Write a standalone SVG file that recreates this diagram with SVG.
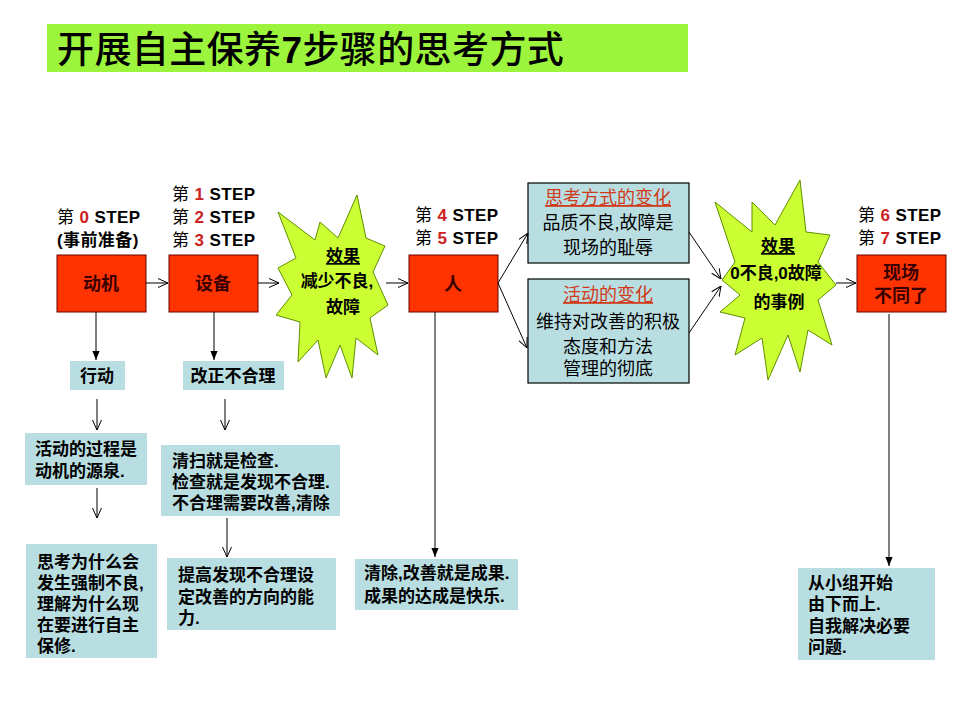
<svg xmlns="http://www.w3.org/2000/svg" width="960" height="720" viewBox="0 0 960 720">
<defs>
<marker id="open" viewBox="0 0 10 10" refX="10" refY="5" markerWidth="10" markerHeight="10" markerUnits="userSpaceOnUse" orient="auto"><path d="M0,0.5 L10,5 L0,9.5" fill="none" stroke="#000" stroke-width="1"/></marker>
<marker id="solid" viewBox="0 0 10 10" refX="10" refY="5" markerWidth="9" markerHeight="9" markerUnits="userSpaceOnUse" orient="auto"><path d="M0,1 L10,5 L0,9 z" fill="#000"/></marker>
<style>
text{font-family:"Liberation Sans","Noto Sans CJK SC",sans-serif;fill:#000}
.step{font-size:17px;font-weight:bold;letter-spacing:0.4px}
.step .n{fill:#CC2222}
.step .d{font-weight:normal}
.red{fill:#FF3300;stroke:#6b0000;stroke-width:1}
.rt{font-size:18px;font-weight:bold;fill:#3a0000;text-anchor:middle}
.blue{fill:#B9DEE1;stroke:#000;stroke-width:1.2}
.note{fill:#B9DEE1}
.bt{font-size:18px;text-anchor:middle}
.bh{font-size:18px;text-anchor:middle;fill:#D03A1A;text-decoration:underline}
.nt{font-size:17px;font-weight:bold}
.star{fill:#CCFF33;stroke:#5f8f00;stroke-width:1}
.st{font-size:17px;font-weight:bold;text-anchor:middle}
.su{text-decoration:underline}
.c line,.c path{stroke:#000;stroke-width:1;fill:none}
</style>
</defs>
<rect width="960" height="720" fill="#fff"/>

<g id="title">
<rect x="47" y="24" width="641" height="48" fill="#9CF53C"/>
<text x="57" y="63" style="font-size:37px;font-weight:500;letter-spacing:0.4px">开展自主保养<tspan style="font-weight:bold">7</tspan>步骤的思考方式</text>
</g>

<g id="steps">
<text class="step" x="57" y="223"><tspan class="d">第 </tspan><tspan class="n">0</tspan> STEP</text>
<text class="step" x="57" y="246">(事前准备)</text>
<text class="step" x="172" y="200"><tspan class="d">第 </tspan><tspan class="n">1</tspan> STEP</text>
<text class="step" x="172" y="223"><tspan class="d">第 </tspan><tspan class="n">2</tspan> STEP</text>
<text class="step" x="172" y="246"><tspan class="d">第 </tspan><tspan class="n">3</tspan> STEP</text>
<text class="step" x="415" y="221"><tspan class="d">第 </tspan><tspan class="n">4</tspan> STEP</text>
<text class="step" x="415" y="244"><tspan class="d">第 </tspan><tspan class="n">5</tspan> STEP</text>
<text class="step" x="858" y="221"><tspan class="d">第 </tspan><tspan class="n">6</tspan> STEP</text>
<text class="step" x="858" y="244"><tspan class="d">第 </tspan><tspan class="n">7</tspan> STEP</text>
</g>

<g id="n-dongji"><rect class="red" x="57" y="255" width="89" height="57"/><text class="rt" x="101" y="290">动机</text></g>
<g id="n-shebei"><rect class="red" x="169" y="255" width="89" height="57"/><text class="rt" x="213" y="290">设备</text></g>
<g id="n-ren"><rect class="red" x="409" y="255" width="89" height="57"/><text class="rt" x="453" y="290">人</text></g>
<g id="n-xianchang"><rect class="red" x="857" y="255" width="89" height="57"/><text class="rt" x="901" y="279">现场</text><text class="rt" x="901" y="302">不同了</text></g>

<g id="n-star1">
<polygon class="star" points="357,195 366,238 385,246 373,272 388,305 370,318 378,355 356,338 352,378 340,345 326,378 318,340 298,362 300,322 276,315 292,295 278,268 296,258 278,212 315,240 320,222 338,238"/>
<text class="st su" x="343" y="262">效果</text>
<text class="st" x="337" y="287">减少不良,</text>
<text class="st" x="343" y="313">故障</text>
</g>

<g id="n-star2">
<polygon class="star" points="800,180 806,232 830,235 818,262 836,285 818,300 832,345 808,330 800,372 788,335 768,380 762,338 735,355 745,318 720,312 740,295 722,280 735,262 715,202 752,232 752,202 775,225"/>
<text class="st su" x="778" y="252">效果</text>
<text class="st" x="776" y="279">0不良,0故障</text>
<text class="st" x="779" y="308">的事例</text>
</g>

<g id="n-siwei">
<rect class="blue" x="528" y="183" width="161" height="80"/>
<text class="bh" x="608" y="204">思考方式的变化</text>
<text class="bt" x="608" y="229">品质不良,故障是</text>
<text class="bt" x="608" y="254">现场的耻辱</text>
</g>
<g id="n-huodong">
<rect class="blue" x="528" y="279" width="161" height="104"/>
<text class="bh" x="608" y="301">活动的变化</text>
<text class="bt" x="608" y="328">维持对改善的积极</text>
<text class="bt" x="608" y="353">态度和方法</text>
<text class="bt" x="608" y="375">管理的彻底</text>
</g>

<g id="n-xingdong"><rect class="note" x="70" y="361" width="55" height="29"/><text class="nt" x="97" y="382" text-anchor="middle">行动</text></g>
<g id="n-gaizheng"><rect class="note" x="183" y="361" width="101" height="29"/><text class="nt" x="233" y="382" text-anchor="middle">改正不合理</text></g>
<g id="n-guocheng"><rect class="note" x="25" y="433" width="122" height="52"/><text class="nt" x="35" y="455">活动的过程是</text><text class="nt" x="35" y="477">动机的源泉.</text></g>
<g id="n-qingsao"><rect class="note" x="161" y="445" width="179" height="71"/><text class="nt" x="172" y="467">清扫就是检查.</text><text class="nt" x="172" y="488">检查就是发现不合理.</text><text class="nt" x="172" y="509">不合理需要改善,清除</text></g>
<g id="n-sikao"><rect class="note" x="26" y="544" width="131" height="114"/><text class="nt" x="37" y="568">思考为什么会</text><text class="nt" x="37" y="589">发生强制不良,</text><text class="nt" x="37" y="610">理解为什么现</text><text class="nt" x="37" y="631">在要进行自主</text><text class="nt" x="37" y="652">保修.</text></g>
<g id="n-tigao"><rect class="note" x="167" y="558" width="169" height="72"/><text class="nt" x="178" y="581">提高发现不合理设</text><text class="nt" x="178" y="603">定改善的方向的能</text><text class="nt" x="178" y="624">力.</text></g>
<g id="n-qingchu"><rect class="note" x="355" y="559" width="163" height="51"/><text class="nt" x="364" y="579">清除,改善就是成果.</text><text class="nt" x="364" y="602">成果的达成是快乐.</text></g>
<g id="n-xiaozu"><rect class="note" x="798" y="568" width="137" height="92"/><text class="nt" x="808" y="589">从小组开始</text><text class="nt" x="808" y="610">由下而上.</text><text class="nt" x="808" y="632">自我解决必要</text><text class="nt" x="808" y="653">问题.</text></g>

<g id="connectors" class="c">
<line x1="146" y1="283" x2="168" y2="283" marker-end="url(#open)"/>
<line x1="258" y1="283" x2="279" y2="283" marker-end="url(#open)"/>
<line x1="386" y1="283" x2="408" y2="283" marker-end="url(#open)"/>
<line x1="498" y1="283" x2="528" y2="233" marker-end="url(#open)"/>
<line x1="498" y1="283" x2="527" y2="348" marker-end="url(#open)"/>
<line x1="689" y1="232" x2="721" y2="279" marker-end="url(#open)"/>
<line x1="689" y1="333" x2="721" y2="286" marker-end="url(#open)"/>
<line x1="836" y1="283" x2="856" y2="283" marker-end="url(#open)"/>
<line x1="96" y1="312" x2="96" y2="360" marker-end="url(#solid)"/>
<line x1="214" y1="312" x2="214" y2="360" marker-end="url(#solid)"/>
<line x1="435" y1="312" x2="435" y2="557" marker-end="url(#solid)"/>
<line x1="889" y1="314" x2="889" y2="566" marker-end="url(#solid)"/>
<line x1="97" y1="399" x2="97" y2="430" marker-end="url(#open)"/>
<line x1="97" y1="488" x2="97" y2="518" marker-end="url(#open)"/>
<line x1="225" y1="399" x2="225" y2="430" marker-end="url(#open)"/>
<line x1="227" y1="518" x2="227" y2="557" marker-end="url(#open)"/>
</g>
</svg>
